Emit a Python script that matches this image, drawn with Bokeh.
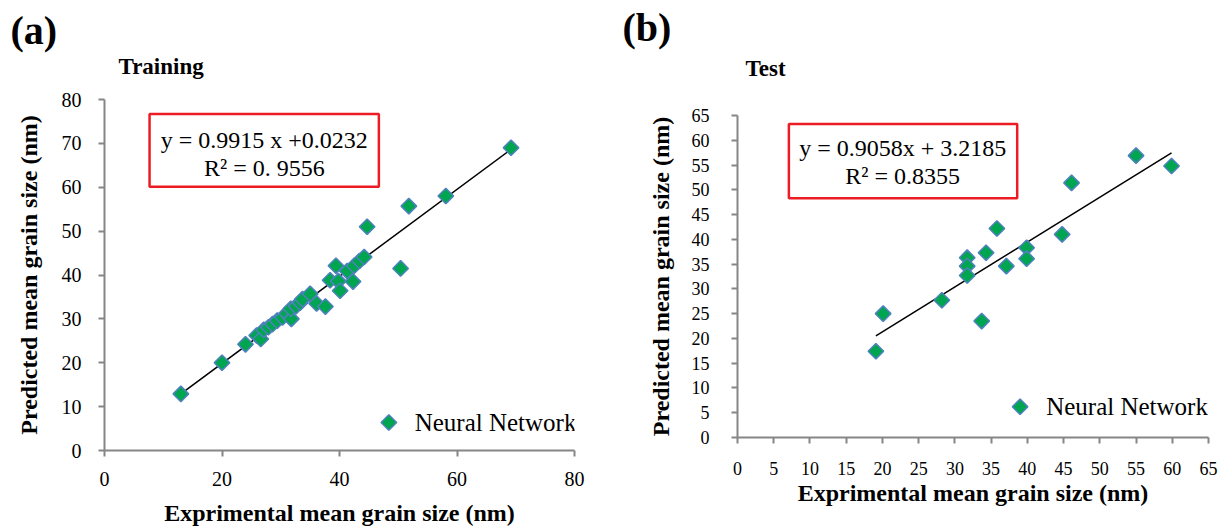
import numpy as np
from bokeh.plotting import figure
from bokeh.layouts import row, column
from bokeh.models import Label, BoxAnnotation, FixedTicker, Range1d, Title
from bokeh.embed import file_html
from bokeh.resources import INLINE

# ---------------- data ----------------
x_train = [13.0, 20.0, 24.0, 25.9, 26.6, 27.1, 27.9, 28.6, 29.4, 30.3, 31.0, 31.8, 31.7,
           32.6, 33.3, 33.7, 35.0, 36.1, 37.6, 38.4, 39.4, 39.8, 40.1, 41.3, 42.3, 42.5,
           43.4, 44.2, 44.7, 50.4, 51.8, 58.1, 69.2]
y_train = [12.9, 20.0, 24.2, 26.2, 25.4, 27.5, 28.1, 28.8, 29.6, 30.3, 31.2, 30.0, 32.3,
           32.9, 33.7, 34.5, 35.7, 33.5, 32.8, 38.8, 42.1, 38.6, 36.4, 40.9, 38.5, 42.1,
           43.2, 44.1, 51.0, 41.5, 55.7, 58.0, 69.0]

x_test = [19.1, 20.1, 28.2, 31.7, 31.7, 31.7, 33.7, 34.3, 35.8, 37.1, 39.9, 39.9, 44.8,
          46.1, 55.0, 59.9]
y_test = [17.4, 25.0, 27.7, 36.3, 34.6, 32.7, 23.5, 37.3, 42.2, 34.6, 38.3, 36.1, 41.0,
          51.4, 56.9, 54.8]

fit_train = (0.9915, 0.0232)
fit_test = (0.9058, 3.2185)

xticks_train = [0, 20, 40, 60, 80]
yticks_train = [0, 10, 20, 30, 40, 50, 60, 70, 80]
ticks_test = [0, 5, 10, 15, 20, 25, 30, 35, 40, 45, 50, 55, 60, 65]

eq_train = ["y = 0.9915 x +0.0232", "R\u00b2 = 0. 9556"]
eq_test = ["y = 0.9058x + 3.2185", "R\u00b2 = 0.8355"]

series_name = "Neural Network"

FONT = "Liberation Serif"
GREEN = "#00A550"
BLUE = "#4F81BD"
AXIS = "#868686"
RED = "#ED1C24"


def style_axes(p, tick_size, ystand, xstand, ylab_stand, xlab_stand):
    for ax in (p.xaxis[0], p.yaxis[0]):
        ax.axis_line_color = AXIS
        ax.axis_line_width = 2
        ax.major_tick_line_color = AXIS
        ax.major_tick_line_width = 2
        ax.major_tick_in = 0
        ax.major_tick_out = 6
        ax.minor_tick_line_color = None
        ax.major_label_text_font = FONT
        ax.major_label_text_font_size = tick_size
        ax.major_label_text_color = "black"
        ax.axis_label_text_font = FONT
        ax.axis_label_text_font_size = "24px"
        ax.axis_label_text_font_style = "bold"
        ax.axis_label_text_color = "black"
    p.yaxis[0].major_label_standoff = ystand
    p.xaxis[0].major_label_standoff = xstand
    p.yaxis[0].axis_label_standoff = ylab_stand
    p.xaxis[0].axis_label_standoff = xlab_stand
    p.xgrid.visible = False
    p.ygrid.visible = False
    p.outline_line_color = None


def make_panel(xs, ys, fit, xticks, yticks, vmax, eq, letter, title, dims, box, eq_pos,
               leg_pos, tick_size, stands, title_off, title_stand, letter_off, letter_stand):
    fw, fh, bl, br, bt, bb = dims
    p = figure(output_backend="svg", toolbar_location=None,
               frame_width=fw, frame_height=fh,
               min_border_left=bl, min_border_right=br, min_border_top=bt, min_border_bottom=bb,
               x_range=Range1d(0, vmax), y_range=Range1d(0, vmax),
               background_fill_color="white", border_fill_color="white")
    # sub title nearest to the frame, then the panel letter above it
    p.add_layout(Title(text=title, align="left", offset=title_off, standoff=title_stand,
                       text_font=FONT, text_font_size="23px", text_font_style="bold",
                       text_color="black"), "above")
    p.add_layout(Title(text=letter, align="left", offset=letter_off, standoff=letter_stand,
                       text_font=FONT, text_font_size="40px", text_font_style="bold",
                       text_color="black"), "above")
    p.xaxis.axis_label = "Exprimental mean grain size (nm)"
    p.yaxis.axis_label = "Predicted mean grain size (nm)"
    p.xaxis.ticker = FixedTicker(ticks=xticks)
    p.yaxis.ticker = FixedTicker(ticks=yticks)
    style_axes(p, tick_size, *stands)

    # trend line
    xl = np.array([min(xs), max(xs)])
    p.line(xl, fit[0] * xl + fit[1], line_color="black", line_width=1.5)

    p.scatter(xs, ys, marker="square", size=11, angle=np.pi / 4,
              fill_color=GREEN, line_color=BLUE, line_width=1.5)

    # legend key (diamond) + label
    lx, ly, tx = leg_pos
    p.scatter([lx], [ly], marker="square", size=11, angle=np.pi / 4,
              fill_color=GREEN, line_color=BLUE, line_width=1.5)
    p.add_layout(Label(x=tx, y=ly, text=series_name, text_align="left", text_baseline="middle",
                       text_font=FONT, text_font_size="25px", text_color="black"))

    bx0, bx1, by0, by1 = box
    p.add_layout(BoxAnnotation(left=bx0, right=bx1, bottom=by0, top=by1,
                               fill_alpha=0, line_color=RED, line_alpha=1, line_width=2.5))
    ex, ey1, ey2 = eq_pos
    for txt, yy in zip(eq, (ey1, ey2)):
        p.add_layout(Label(x=ex, y=yy, text=txt, text_align="center", text_baseline="middle",
                           text_font=FONT, text_font_size="24px", text_color="black"))
    return p


pa = make_panel(x_train, y_train, fit_train, xticks_train, yticks_train, 80, eq_train,
                "(a)", "Training",
                dims=(470, 351, 104, 36, 99, 78),
                box=(7.67, 46.7, 60.1, 76.7), eq_pos=(27.2, 70.8, 64.4),
                leg_pos=(48.4, 6.37, 52.8), tick_size="20px",
                stands=(17, 15, 17, 11), title_off=14, title_stand=41,
                letter_off=-94, letter_stand=-42)

pb = make_panel(x_test, y_test, fit_test, ticks_test, ticks_test, 65, eq_test,
                "(b)", "Test",
                dims=(471, 322, 127, 10, 115, 70),
                box=(7.09, 38.6, 48.3, 63.3), eq_pos=(22.8, 58.4, 52.8),
                leg_pos=(39.0, 6.2, 42.6), tick_size="18px",
                stands=(22, 18, 15, 2), title_off=8, title_stand=69,
                letter_off=-115, letter_stand=-61)

layout = row(column(pa), column(pb))
open("out.html", "w").write(file_html(layout, INLINE))
